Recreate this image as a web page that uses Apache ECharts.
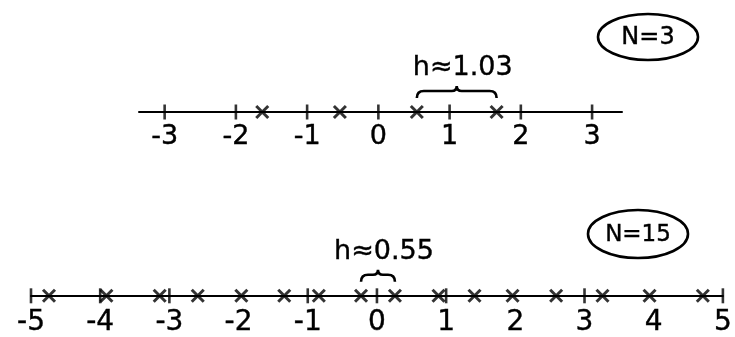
<!DOCTYPE html>
<html>
<head>
<meta charset="utf-8">
<script src="https://cdn.jsdelivr.net/npm/echarts@6/dist/echarts.min.js"></script>
<style>
html, body { margin: 0; padding: 0; background: #fff; }
#chart { width: 735px; height: 337px; }
</style>
</head>
<body>
<div id="chart"></div>
<script>
// top line, N=3
var topTicks = [-3, -2, -1, 0, 1, 2, 3];
var topMarks = [-1.63, -0.54, 0.54, 1.66];
var topBrace = [[0.54, 1.66, 'h\u22481.03']];
// bottom line, N=15 (ticks at -2, 2 and 4 are not drawn in the original)
var botLabels = [-5, -4, -3, -2, -1, 0, 1, 2, 3, 4, 5];
var botTicks = [-5, -4, -3, -1, 0, 1, 3, 5];
var botMarks = [-4.74, -3.91, -3.14, -2.59, -1.96, -1.34, -0.84, -0.23, 0.26, 0.89, 1.41, 1.96, 2.59, 3.26, 3.94, 4.71];
var botBrace = [[-0.23, 0.26, 'h\u22480.55']];

var ink = '#000';
var font = '"DejaVu Sans", sans-serif';
var cross = 'path://M0,0L10,10M0,10L10,0';

function pts(arr) {
	return arr.map(function (v) { return [v, 0]; });
}

function braceItem(params, api) {
	var a = api.coord([api.value(0), 0]);
	var b = api.coord([api.value(1), 0]);
	var y = a[1];
	var x1 = a[0], x2 = b[0], m = (x1 + x2) / 2;
	var e = y - 14, t = y - 21, p = y - 26, r = 7;
	var d = 'M' + x1 + ',' + e + 'Q' + x1 + ',' + t + ' ' + (x1 + r) + ',' + t +
		'L' + (m - 5) + ',' + t + 'Q' + m + ',' + t + ' ' + m + ',' + p +
		'Q' + m + ',' + t + ' ' + (m + 5) + ',' + t +
		'L' + (x2 - r) + ',' + t + 'Q' + x2 + ',' + t + ' ' + x2 + ',' + e;
	return {
		type: 'group',
		children: [{
			type: 'path',
			shape: { pathData: d },
			style: { fill: null, stroke: ink, lineWidth: 2.6 }
		}, {
			type: 'text',
			style: {
				text: api.value(2),
				x: m + 6, y: y - 44,
				align: 'center', verticalAlign: 'middle',
				font: '27px ' + font, fill: ink,
				stroke: ink, lineWidth: 0.4
			}
		}]
	};
}

function xAxisOf(idx, min, max, labels, size, margin) {
	return {
		type: 'value', gridIndex: idx, min: min, max: max,
		axisLine: { onZero: false, lineStyle: { color: ink, width: 2 } },
		axisTick: { show: false },
		splitLine: { show: false },
		axisLabel: {
			customValues: labels, color: ink, fontSize: size, fontFamily: font,
			margin: margin, hideOverlap: false,
			textBorderColor: ink, textBorderWidth: 0.4
		}
	};
}

var myChart = echarts.init(document.getElementById('chart'));
myChart.setOption({
	animation: false,
	grid: [
		{ left: 139, right: 113, bottom: 225, height: 40 },
		{ left: 31, right: 4, bottom: 40, height: 40 }
	],
	xAxis: [
		xAxisOf(0, -3.36, 3.42, topTicks, 27, 11),
		xAxisOf(1, -5, 5, botLabels, 28, 13)
	],
	yAxis: [
		{ type: 'value', gridIndex: 0, min: 0, max: 1, show: false },
		{ type: 'value', gridIndex: 1, min: 0, max: 1, show: false }
	],
	series: [{
		name: 'topTicks', type: 'scatter', xAxisIndex: 0, yAxisIndex: 0,
		symbol: 'rect', symbolSize: [2.6, 15], itemStyle: { color: ink },
		data: pts(topTicks)
	}, {
		name: 'topMarks', type: 'scatter', xAxisIndex: 0, yAxisIndex: 0,
		symbol: cross, symbolSize: 12,
		itemStyle: { color: 'transparent', borderColor: ink, borderWidth: 3 },
		data: pts(topMarks)
	}, {
		name: 'topBrace', type: 'custom', xAxisIndex: 0, yAxisIndex: 0,
		renderItem: braceItem, data: topBrace
	}, {
		name: 'botTicks', type: 'scatter', xAxisIndex: 1, yAxisIndex: 1,
		symbol: 'rect', symbolSize: [2.6, 15], itemStyle: { color: ink },
		data: pts(botTicks)
	}, {
		name: 'botMarks', type: 'scatter', xAxisIndex: 1, yAxisIndex: 1,
		symbol: cross, symbolSize: 12,
		itemStyle: { color: 'transparent', borderColor: ink, borderWidth: 3 },
		data: pts(botMarks)
	}, {
		name: 'botBrace', type: 'custom', xAxisIndex: 1, yAxisIndex: 1,
		renderItem: braceItem, data: botBrace
	}],
	graphic: [{
		type: 'ellipse', shape: { cx: 648, cy: 37, rx: 50, ry: 23 },
		style: { fill: null, stroke: ink, lineWidth: 2.6 }
	}, {
		type: 'text', x: 648, y: 38,
		style: { text: 'N=3', font: '24px ' + font, fill: ink, stroke: ink, lineWidth: 0.4, align: 'center', verticalAlign: 'middle' }
	}, {
		type: 'ellipse', shape: { cx: 638, cy: 234, rx: 50, ry: 24 },
		style: { fill: null, stroke: ink, lineWidth: 2.6 }
	}, {
		type: 'text', x: 638, y: 235,
		style: { text: 'N=15', font: '23px ' + font, fill: ink, stroke: ink, lineWidth: 0.4, align: 'center', verticalAlign: 'middle' }
	}]
});
window.onresize = myChart.resize;
</script>
</body>
</html>
